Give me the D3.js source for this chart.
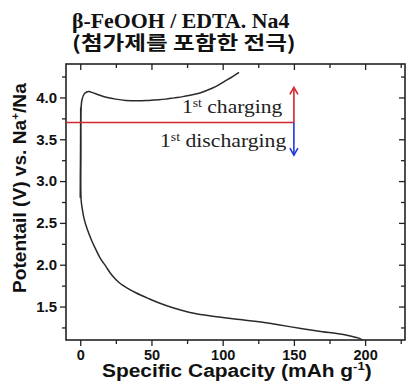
<!DOCTYPE html>
<html><head><meta charset="utf-8">
<script src="https://cdn.jsdelivr.net/npm/d3@7"></script>
<style>body{margin:0;background:#fff}svg{display:block}</style>
</head><body>
<svg id="c" width="406" height="389"></svg>
<script>
// ---- data ----
const chargeCap = [0, 0.2, 0.5, 1.2, 2.7, 4.5, 6.2, 9, 13.2, 19, 25, 32, 40, 48, 55, 60, 66, 72, 78, 83.5, 89, 95, 101, 107, 111.5];
const chargeV   = [2.8, 3.4, 3.85, 3.97, 4.04, 4.065, 4.07, 4.055, 4.03, 4.0, 3.98, 3.965, 3.96, 3.965, 3.972, 3.98, 3.995, 4.01, 4.03, 4.05, 4.085, 4.13, 4.19, 4.25, 4.30];
const dischargeCap = [0.3, 0.4, 0.6, 1.5, 3, 5, 8, 11, 14, 18, 22, 27, 33, 39, 48, 55, 65, 77, 88, 100, 112, 124, 138, 156, 170, 180, 188, 195, 198];
const dischargeV   = [3.88, 3.4, 2.78, 2.66, 2.53, 2.42, 2.29, 2.18, 2.08, 1.98, 1.88, 1.79, 1.72, 1.665, 1.595, 1.545, 1.485, 1.43, 1.397, 1.37, 1.345, 1.32, 1.285, 1.235, 1.2, 1.178, 1.155, 1.125, 1.10];
const xMajorTicks = [0, 50, 100, 150, 200];
const xMinorTicks = [25, 75, 125, 175, 225];
const yMajorTicks = [1.5, 2.0, 2.5, 3.0, 3.5, 4.0];
const yMinorTicks = [1.25, 1.75, 2.25, 2.75, 3.25, 3.75, 4.25];
const markerV = 3.7, markerCapEnd = 150, arrowUpV = 4.12, arrowDownV = 3.31;
const titleLines = ["β-FeOOH / EDTA. Na4", "(첨가제를 포함한 전극)"];

// ---- layout ----
const L = 66, R = 405, T = 64, B = 340;
const x = d3.scaleLinear().domain([-10, 228]).range([L, R]);
const y = d3.scaleLinear().domain([1.1, 4.4]).range([B, T]);
const svg = d3.select("#c");
const sans = "'Liberation Sans', Arial, sans-serif";
const serif = "'Liberation Serif', 'Times New Roman', serif";

function fitWidth(sel, x0, w) {
  const bw = sel.node().getBBox().width;
  const k = w / bw;
  sel.attr("transform", `translate(${x0},0) scale(${k},1) translate(${-x0},0)`);
}

// title
const t1 = svg.append("text").attr("x", 72).attr("y", 28).attr("font-family", serif)
  .attr("font-weight", "bold").attr("font-size", 21).attr("fill", "#111").text(titleLines[0]);
fitWidth(t1, 72, 218);
const t2 = svg.append("text").attr("x", 72).attr("y", 50).attr("font-family", "'Noto Sans CJK KR', sans-serif")
  .attr("font-weight", "bold").attr("font-size", 19).attr("fill", "#111").text(titleLines[1]);
fitWidth(t2, 72, 224);

// axes (box)
const gb = svg.append("g").attr("transform", `translate(0,${B})`)
  .call(d3.axisBottom(x).tickValues(xMajorTicks).tickSize(6).tickFormat(d3.format("d")));
svg.append("g").attr("transform", `translate(0,${B})`)
  .call(d3.axisBottom(x).tickValues(xMinorTicks).tickSize(4).tickFormat(""));
const gl = svg.append("g").attr("transform", `translate(${L},0)`)
  .call(d3.axisLeft(y).tickValues(yMajorTicks).tickSize(6).tickFormat(d3.format(".1f")));
svg.append("g").attr("transform", `translate(${L},0)`)
  .call(d3.axisLeft(y).tickValues(yMinorTicks).tickSize(4).tickFormat(""));
svg.append("g").attr("transform", `translate(0,${T})`)
  .call(d3.axisTop(x).tickValues(xMajorTicks).tickSize(-6).tickFormat(""));
svg.append("g").attr("transform", `translate(0,${T})`)
  .call(d3.axisTop(x).tickValues(xMinorTicks).tickSize(-4).tickFormat(""));
svg.append("g").attr("transform", `translate(${R},0)`)
  .call(d3.axisRight(y).tickValues(yMajorTicks).tickSize(-6).tickFormat(""));
svg.append("g").attr("transform", `translate(${R},0)`)
  .call(d3.axisRight(y).tickValues(yMinorTicks).tickSize(-4).tickFormat(""));
svg.selectAll(".domain").remove();
svg.selectAll(".tick line").attr("stroke", "#222").attr("stroke-width", 1.3);
svg.selectAll(".tick text").attr("font-family", sans).attr("font-weight", "bold")
  .attr("font-size", 15).attr("fill", "#111");
gb.selectAll(".tick text").attr("font-size", 14.5).attr("y", 10).attr("dy", "0.71em");
gl.selectAll(".tick text").attr("x", -9);

svg.append("rect").attr("x", L).attr("y", T).attr("width", R - L).attr("height", B - T)
  .attr("fill", "none").attr("stroke", "#222").attr("stroke-width", 1.6);

// curves
const lineXY = d3.line().x(d => x(d[0])).y(d => y(d[1])).curve(d3.curveCatmullRom.alpha(0.5));
svg.append("path").datum(chargeCap.map((c, i) => [c, chargeV[i]]))
  .attr("d", lineXY).attr("fill", "none").attr("stroke", "#2a2a2a").attr("stroke-width", 1.5);
svg.append("path").datum(dischargeCap.map((c, i) => [c, dischargeV[i]]))
  .attr("d", lineXY).attr("fill", "none").attr("stroke", "#2a2a2a").attr("stroke-width", 1.5);

// marker line and arrows
svg.append("line").attr("x1", L).attr("x2", x(markerCapEnd)).attr("y1", y(markerV)).attr("y2", y(markerV))
  .attr("stroke", "#d6262e").attr("stroke-width", 1.6);
const ax = x(markerCapEnd);
svg.append("line").attr("x1", ax).attr("x2", ax).attr("y1", y(markerV)).attr("y2", y(arrowUpV))
  .attr("stroke", "#d6262e").attr("stroke-width", 1.6);
svg.append("path").attr("d", `M${ax - 4},${y(arrowUpV) + 7}L${ax},${y(arrowUpV)}L${ax + 4},${y(arrowUpV) + 7}`)
  .attr("fill", "none").attr("stroke", "#d6262e").attr("stroke-width", 1.6);
svg.append("line").attr("x1", ax).attr("x2", ax).attr("y1", y(markerV)).attr("y2", y(arrowDownV))
  .attr("stroke", "#2336d6").attr("stroke-width", 1.6);
svg.append("path").attr("d", `M${ax - 4},${y(arrowDownV) - 7}L${ax},${y(arrowDownV)}L${ax + 4},${y(arrowDownV) - 7}`)
  .attr("fill", "none").attr("stroke", "#2336d6").attr("stroke-width", 1.6);

// annotations
function annot(x0, yb, word, w) {
  const t = svg.append("text").attr("x", x0).attr("y", yb).attr("font-family", serif)
    .attr("font-size", 19).attr("fill", "#222");
  t.append("tspan").text("1");
  t.append("tspan").attr("font-size", 12).attr("dy", -6).text("st");
  t.append("tspan").attr("dy", 6).text(" " + word);
  fitWidth(t, x0, w);
}
annot(182, 113, "charging", 101);
annot(160, 147, "discharging", 127);

// axis titles
const xl = svg.append("text").attr("x", 102).attr("y", 377).attr("font-family", sans)
  .attr("font-weight", "bold").attr("font-size", 17.5).attr("fill", "#111");
xl.append("tspan").text("Specific Capacity (mAh g");
xl.append("tspan").attr("font-size", 11).attr("dy", -7).text("-1");
xl.append("tspan").attr("dy", 7).text(")");
fitWidth(xl, 102, 270);

const yl = svg.append("text").attr("transform", "translate(26,293) rotate(-90)")
  .attr("font-family", sans).attr("font-weight", "bold").attr("font-size", 18).attr("fill", "#111");
yl.append("tspan").text("Potentail (V) vs. Na");
yl.append("tspan").attr("font-size", 11).attr("dy", -7).text("+");
yl.append("tspan").attr("dy", 7).text("/Na");
const yw = yl.node().getBBox().width;
yl.attr("transform", `translate(26,293) rotate(-90) scale(${211 / yw},1)`);
</script>
</body></html>
